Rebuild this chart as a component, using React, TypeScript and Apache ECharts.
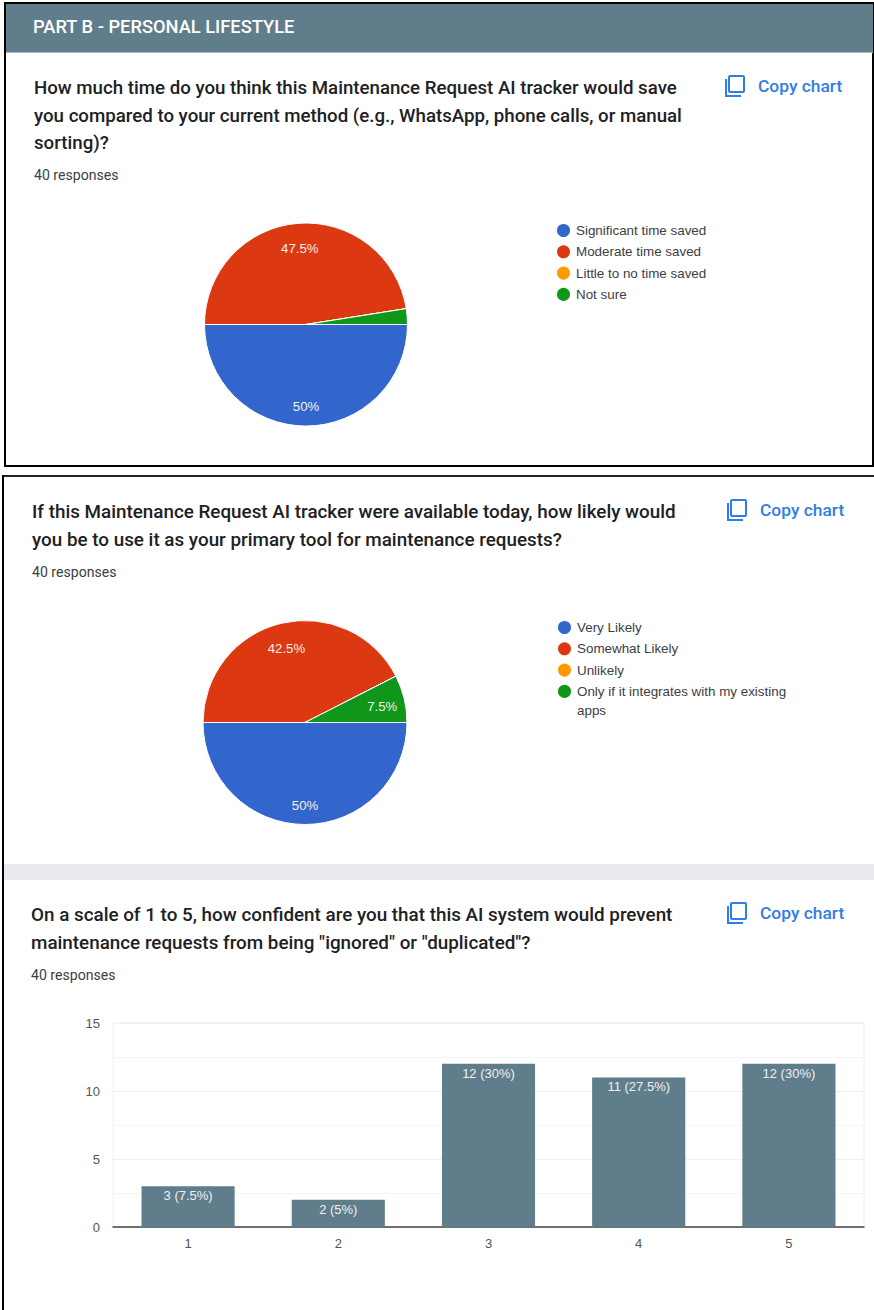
import React, { useEffect, useRef } from "react";
import * as echarts from "echarts";

const SANS = '"Liberation Sans", Arial, sans-serif';
const HEAD = "Roboto, sans-serif";

const timeNames = ["Significant time saved", "Moderate time saved", "Little to no time saved", "Not sure"];
const timeCounts = [20, 19, 0, 1];
const useNames = ["Very Likely", "Somewhat Likely", "Unlikely", "Only if it integrates with my existing apps"];
const useCounts = [20, 17, 0, 3];
const scaleCategories = ["1", "2", "3", "4", "5"];
const scaleCounts = [3, 2, 12, 11, 12];
const totalResponses = 40;
const sliceColors = ["#3366cc", "#dc3912", "#ff9900", "#109618"];

const headerText = "PART B - PERSONAL LIFESTYLE";
const questionOne = [
  "How much time do you think this Maintenance Request AI tracker would save",
  "you compared to your current method (e.g., WhatsApp, phone calls, or manual",
  "sorting)?",
];
const questionTwo = [
  "If this Maintenance Request AI tracker were available today, how likely would",
  "you be to use it as your primary tool for maintenance requests?",
];
const questionThree = [
  "On a scale of 1 to 5, how confident are you that this AI system would prevent",
  'maintenance requests from being "ignored" or "duplicated"?',
];

const share = (n: number) => `${Math.round((n / totalResponses) * 1000) / 10}%`;

// Question block: wrapped heading, response count and the copy button.
function questionBlock(
  lines: string[],
  x: number,
  firstY: number,
  countY: number,
  iconX: number,
  iconY: number,
  fontSize: number
) {
  const items: any[] = lines.map((text, i) => ({
    type: "text",
    x,
    y: firstY + i * 27.7,
    style: { text, font: `500 ${fontSize}px ${HEAD}`, fill: "#202124", textVerticalAlign: "middle" },
  }));
  items.push({
    type: "text",
    x,
    y: countY,
    style: { text: `${totalResponses} responses`, font: `14.1px ${HEAD}`, fill: "#3c4043", textVerticalAlign: "middle" },
  });
  items.push(
    {
      type: "rect",
      shape: { x: iconX + 4, y: iconY, width: 15, height: 16, r: 1 },
      style: { fill: "none", stroke: "#2f7de8", lineWidth: 2 },
    },
    {
      type: "polyline",
      shape: { points: [[iconX + 1, iconY + 3], [iconX + 1, iconY + 20], [iconX + 16, iconY + 20]] },
      style: { fill: "none", stroke: "#2f7de8", lineWidth: 2 },
    },
    {
      type: "text",
      x: iconX + 33,
      y: iconY + 10,
      style: { text: "Copy chart", font: `500 17.4px ${HEAD}`, fill: "#2f7de8", textVerticalAlign: "middle" },
    }
  );
  return items;
}

// Page furniture behind the charts: frames, header band and the grey divider.
const frameItems: any[] = [
  { type: "rect", shape: { x: 5, y: 3, width: 868, height: 463 }, style: { fill: "#fff", stroke: "#000", lineWidth: 2 } },
  { type: "rect", shape: { x: 6, y: 4, width: 867, height: 48 }, style: { fill: "#607d8b" } },
  { type: "line", shape: { x1: 6, y1: 52.5, x2: 873, y2: 52.5 }, style: { stroke: "#a9bac3", lineWidth: 1 } },
  { type: "line", shape: { x1: 3, y1: 476, x2: 874, y2: 476 }, style: { stroke: "#222", lineWidth: 2 } },
  { type: "line", shape: { x1: 3, y1: 475, x2: 3, y2: 1310 }, style: { stroke: "#000", lineWidth: 2 } },
  { type: "rect", shape: { x: 4, y: 864, width: 870, height: 16 }, style: { fill: "#e8eaed" } },
  {
    type: "text",
    x: 33,
    y: 26,
    style: { text: headerText, font: `500 18.3px ${HEAD}`, fill: "#fff", textVerticalAlign: "middle" },
  },
  // Second line of the long legend entry; the circle stays beside the first line.
  {
    type: "text",
    x: 577,
    y: 710.5,
    style: { text: "apps", font: `13.4px ${SANS}`, fill: "#3c4043", textVerticalAlign: "middle" },
  },
];

function pieSeries(names: string[], counts: number[], center: number[], radius: number) {
  const data = names.map((name, i) => ({ name, value: counts[i], itemStyle: { color: sliceColors[i] } }));
  return [
    {
      type: "pie",
      center,
      radius,
      startAngle: 0,
      clockwise: true,
      label: { show: false },
      labelLine: { show: false },
      itemStyle: { borderColor: "#fff", borderWidth: 1 },
      silent: true,
      data,
    },
    // Transparent ring that places the percentages three quarters of the way out.
    {
      type: "pie",
      center,
      radius: [radius / 2, radius],
      startAngle: 0,
      clockwise: true,
      silent: true,
      labelLine: { show: false },
      label: {
        show: true,
        position: "inside",
        offset: [0, 3],
        color: "#f4f1ee",
        fontFamily: SANS,
        fontSize: 13.2,
        formatter: (p: any) => (p.value / totalResponses < 0.05 ? "" : share(p.value)),
      },
      data: names.map((name, i) => ({ name, value: counts[i], itemStyle: { color: "transparent" } })),
    },
  ];
}

function pieLegend(names: string[], left: number, top: number) {
  return {
    orient: "vertical",
    left,
    top,
    padding: 0,
    icon: "circle",
    itemWidth: 15,
    itemHeight: 15,
    itemGap: 6.4 - 2.1,
    selectedMode: false,
    data: names,
    textStyle: { fontFamily: SANS, fontSize: 13.4, color: "#3c4043" },
    formatter: (name: string) => name.replace(" apps", ""),
  };
}

export default function App() {
  const ref = useRef<HTMLDivElement>(null);

  useEffect(() => {
    const chart = echarts.init(ref.current!, undefined, { renderer: "svg" });
    chart.setOption({
      animation: false,
      backgroundColor: "#fff",
      graphic: {
        elements: [
          ...frameItems,
          ...questionBlock(questionOne, 34, 88, 175, 725, 76, 18.68),
          ...questionBlock(questionTwo, 32, 512, 572, 727, 500, 18.83),
          ...questionBlock(questionThree, 31, 915, 975, 727, 903, 18.83),
        ],
      },
      legend: [pieLegend(timeNames, 555, 222), pieLegend(useNames, 556, 619)],
      grid: {
        left: 113,
        right: 10,
        top: 1023,
        bottom: 83,
        show: true,
        borderColor: "#f1f1f1",
        borderWidth: 1,
      },
      xAxis: {
        type: "category",
        data: scaleCategories,
        axisTick: { show: false },
        axisLine: { lineStyle: { color: "#444", width: 1.5 } },
        axisLabel: { fontFamily: SANS, fontSize: 13, color: "#555", margin: 10 },
      },
      yAxis: {
        type: "value",
        min: 0,
        max: 15,
        interval: 5,
        minorTick: { show: false, splitNumber: 2 },
        minorSplitLine: { show: true, lineStyle: { color: "#f5f5f5", width: 1 } },
        axisLine: { show: false },
        axisTick: { show: false },
        splitLine: { lineStyle: { color: "#efefef", width: 1 } },
        axisLabel: { fontFamily: SANS, fontSize: 13, color: "#555", margin: 13 },
      },
      series: [
        ...pieSeries(timeNames, timeCounts, [306, 324.5], 101.5),
        ...pieSeries(useNames, useCounts, [305, 722.5], 102),
        {
          type: "bar",
          data: scaleCounts,
          barWidth: "62%",
          itemStyle: { color: "#607d8b" },
          label: {
            show: true,
            position: "insideTop",
            distance: 3,
            color: "#eef1f3",
            fontFamily: SANS,
            fontSize: 13,
            formatter: (p: any) => `${p.value} (${share(p.value)})`,
          },
        },
      ],
    });
    return () => chart.dispose();
  }, []);

  return <div ref={ref} style={{ position: "absolute", left: 0, top: 0, width: 874, height: 1310 }} />;
}
